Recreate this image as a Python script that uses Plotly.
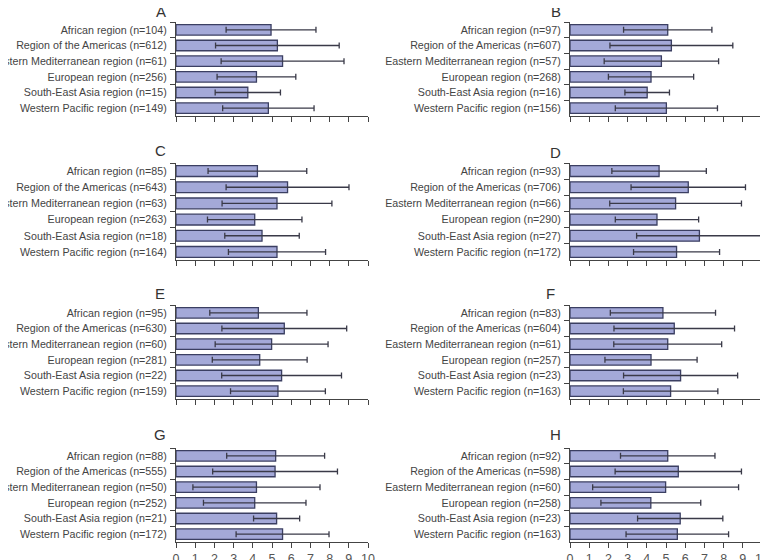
import plotly.graph_objects as go

regions = ["African region", "Region of the Americas", "Eastern Mediterranean region",
           "European region", "South-East Asia region", "Western Pacific region"]
panel_names = ["A", "B", "C", "D", "E", "F", "G", "H"]

n_A = [104, 612, 61, 256, 15, 149]
n_B = [97, 607, 57, 268, 16, 156]
n_C = [85, 643, 63, 263, 18, 164]
n_D = [93, 706, 66, 290, 27, 172]
n_E = [95, 630, 60, 281, 22, 159]
n_F = [83, 604, 61, 257, 23, 163]
n_G = [88, 555, 50, 252, 21, 172]
n_H = [92, 598, 60, 258, 23, 163]

mean_A = [4.95, 5.28, 5.55, 4.19, 3.74, 4.81]
sd_A = [2.34, 3.22, 3.20, 2.05, 1.70, 2.38]
mean_B = [5.09, 5.28, 4.76, 4.22, 4.02, 5.02]
sd_B = [2.30, 3.20, 2.98, 2.22, 1.16, 2.66]
mean_C = [4.24, 5.81, 5.26, 4.10, 4.48, 5.26]
sd_C = [2.57, 3.20, 2.86, 2.46, 1.94, 2.53]
mean_D = [4.64, 6.16, 5.50, 4.53, 6.74, 5.55]
sd_D = [2.46, 2.98, 3.43, 2.17, 3.27, 2.24]
mean_E = [4.29, 5.64, 4.98, 4.36, 5.50, 5.31]
sd_E = [2.53, 3.25, 2.94, 2.47, 3.12, 2.47]
mean_F = [4.84, 5.43, 5.09, 4.22, 5.76, 5.24]
sd_F = [2.74, 3.14, 2.81, 2.40, 2.97, 2.46]
mean_G = [5.19, 5.16, 4.19, 4.10, 5.24, 5.55]
sd_G = [2.55, 3.25, 3.31, 2.67, 1.20, 2.42]
mean_H = [5.09, 5.64, 4.98, 4.21, 5.74, 5.59]
sd_H = [2.46, 3.29, 3.80, 2.60, 2.22, 2.67]

x_ticks = [0, 1, 2, 3, 4, 5, 6, 7, 8, 9, 10]

ns = [n_A, n_B, n_C, n_D, n_E, n_F, n_G, n_H]
means = [mean_A, mean_B, mean_C, mean_D, mean_E, mean_F, mean_G, mean_H]
sds = [sd_A, sd_B, sd_C, sd_D, sd_E, sd_F, sd_G, sd_H]

OFF = 8  # default page body margin
W, H = 768 - OFF, 560 - OFF
FONT = "Liberation Sans Narrow, Liberation Sans, Arial"
col_x = [(176, 368), (570, 762)]
row_y = [(22, 116), (163, 260), (305, 399), (448, 542)]
title_pos = [(161, 11), (556, 11), (160, 151), (555, 152), (160, 293), (550, 293), (160, 434), (555, 434)]


def px(v):
    return (v - OFF) / W


def py(v):
    return 1 - (v - OFF) / H


fig = go.Figure()
annotations = []
for i in range(8):
    r, c = divmod(i, 2)
    labels = [f"{reg} (n={n})" for reg, n in zip(regions, ns[i])]
    xa = "x" if i == 0 else f"x{i+1}"
    ya = "y" if i == 0 else f"y{i+1}"
    fig.add_trace(go.Bar(
        x=means[i], y=labels, orientation="h",
        marker=dict(color="#a4a9d8", line=dict(color="#3b3f62", width=1.3)),
        error_x=dict(type="data", array=sds[i], color="#3a3a48", thickness=1.3, width=3),
        xaxis=xa, yaxis=ya, showlegend=False,
    ))
    x0, x1 = col_x[c]
    y0, y1 = row_y[r]
    xkey = "xaxis" if i == 0 else f"xaxis{i+1}"
    ykey = "yaxis" if i == 0 else f"yaxis{i+1}"
    fig.layout[xkey] = dict(
        domain=[px(x0), px(x1)], anchor=ya, range=[0, 10], automargin=False,
        tickvals=x_ticks, showticklabels=(r == 3), ticklabeloverflow="allow",
        ticks="outside", ticklen=5, tickwidth=1.2, tickcolor="#444",
        showline=True, linecolor="#444", linewidth=1.2, showgrid=False, zeroline=False,
        tickfont=dict(family=FONT, size=12.5, color="#555"), fixedrange=True,
    )
    fig.layout[ykey] = dict(
        domain=[py(y1), py(y0)], anchor=xa, autorange="reversed", automargin=False,
        type="category", tickson="boundaries", ticklabelstandoff=6,
        ticks="outside", ticklen=5, tickwidth=1.2, tickcolor="#444",
        showline=True, linecolor="#444", linewidth=1.2, showgrid=False,
        tickfont=dict(family=FONT, size=10.7, color="#444"), fixedrange=True,
    )
    tx, ty = title_pos[i]
    annotations.append(dict(
        text=panel_names[i], x=px(tx), y=py(ty), xref="paper", yref="paper",
        showarrow=False, xanchor="center", yanchor="middle",
        font=dict(family=FONT, size=15, color="#333"),
    ))

fig.update_layout(
    width=W, height=H, margin=dict(l=0, r=0, t=0, b=0, autoexpand=False),
    paper_bgcolor="white", plot_bgcolor="white",
    bargap=0.33, annotations=annotations,
    font=dict(family=FONT),
)
fig.write_html("out.html")
